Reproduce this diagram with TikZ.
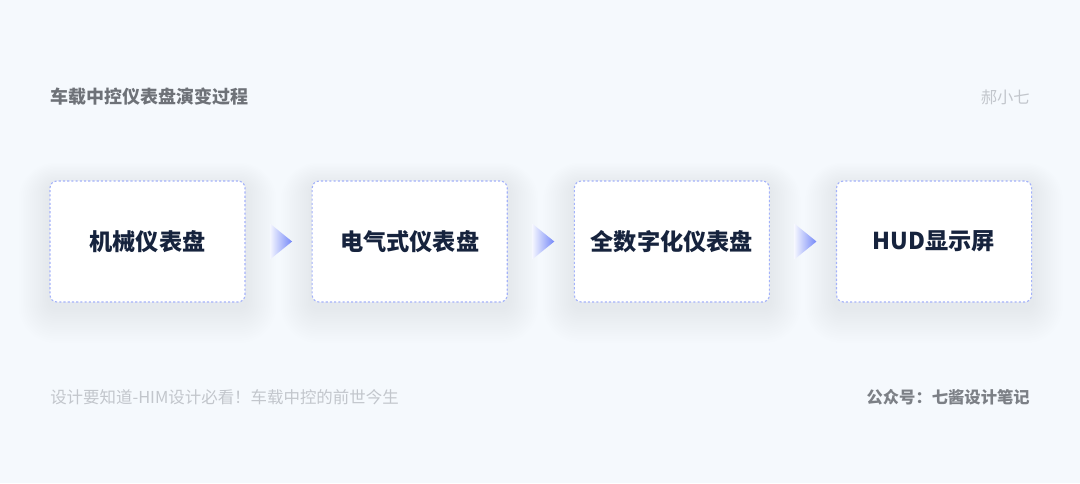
\documentclass[tikz,border=0pt]{standalone}
\usepackage{fontspec}
\setmainfont{Noto Sans CJK SC}
\usetikzlibrary{positioning,shapes.geometric,calc,backgrounds}

\definecolor{bgblue}{HTML}{F5F9FD}
\definecolor{dashblue}{HTML}{A3B2FA}
\definecolor{navy}{HTML}{16233D}
\definecolor{arrblue}{HTML}{7487F8}
\definecolor{titlegray}{HTML}{6E7278}
\definecolor{lightgray}{HTML}{C2C6CC}
\definecolor{shadowgray}{HTML}{8A96AA}

\tikzset{
    stage/.style={draw=dashblue,dashed,dash pattern=on 1.5pt off 1.5pt,line width=.8pt,
        fill=white,rounded corners=5pt,minimum width=4.875cm,minimum height=3.025cm,
        text=navy,font=\fontsize{16.5}{19}\selectfont\bfseries},
    pointer/.style={isosceles triangle,isosceles triangle apex angle=78,
        minimum height=.55cm,inner sep=0pt,left color=arrblue!8,right color=arrblue,
        shading angle=90},
    caption/.style={font=\fontsize{11.7}{14}\selectfont,text=lightgray,inner sep=0pt}
}

% soft shadow round a stage
\newcommand{\stageshadow}[1]{%
    \foreach \k in {1,...,16}{
        \fill[shadowgray,opacity=.0065,rounded corners=5pt+\k*1.3pt]
            ($(#1.south west)+(-\k*1.9,\k*2.2+5)$) rectangle ($(#1.north east)+(\k*1.9,-\k*1.4+5)$);
    }}

\begin{document}
\begin{tikzpicture}[x=0.025cm,y=-0.025cm,node distance=1.65cm]

    % header
    \node[caption,anchor=west,text=titlegray,font=\fontsize{12.8}{15}\selectfont\bfseries] (title) at (50,97) {车载中控仪表盘演变过程};
    \node[caption,anchor=east,font=\fontsize{11.6}{14}\selectfont] (author) at (1030,97) {郝小七};

    % stages
    \node[stage] (mech) at (147.5,241.5) {机械仪表盘};
    \node[stage,right=of mech] (elec) {电气式仪表盘};
    \node[stage,right=of elec] (digi) {全数字化仪表盘};
    \node[stage,right=of digi] (hud) {HUD显示屏};

    % pointers between stages
    \node[pointer] (p1) at ($(mech.east)!.5!(elec.west)$) {};
    \node[pointer] (p2) at ($(elec.east)!.5!(digi.west)$) {};
    \node[pointer] (p3) at ($(digi.east)!.5!(hud.west)$) {};

    % footer
    \node[caption,anchor=west] (src) at (50,397) {设计要知道-HIM设计必看！车载中控的前世今生};
    \node[caption,anchor=east,text=titlegray!90,font=\fontsize{11.6}{14}\selectfont\bfseries] (pub) at (1030,397) {公众号：七酱设计笔记};

    \begin{scope}[on background layer]
        \fill[bgblue] (0,0) rectangle (1080,483);
        \stageshadow{mech}
        \stageshadow{elec}
        \stageshadow{digi}
        \stageshadow{hud}
    \end{scope}
\end{tikzpicture}
\end{document}
